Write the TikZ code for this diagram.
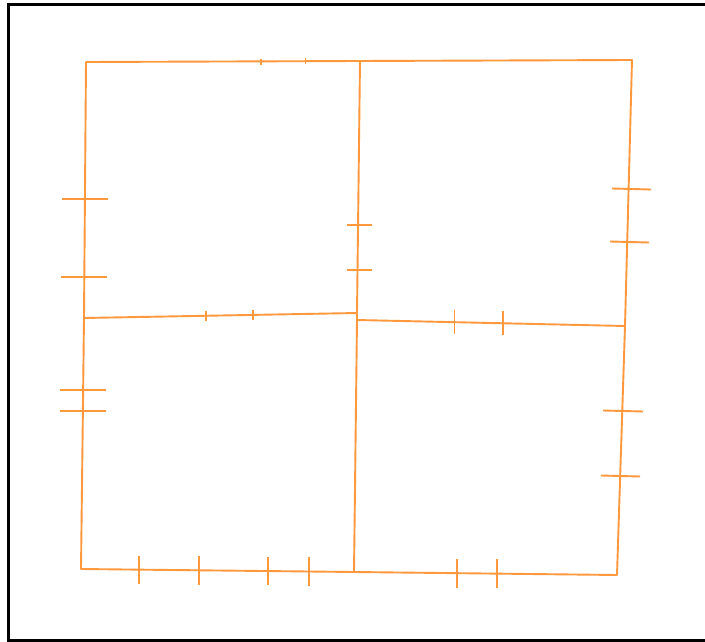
\documentclass[tikz,border=0pt]{standalone}
\usepackage{tikz}
\definecolor{edgeorange}{RGB}{253,152,60}
\tikzset{
  edge/.style={draw=edgeorange, line width=1.9pt, line cap=round, line join=round},
  tickmark/.style={draw=edgeorange, line width=1.9pt},
  thintick/.style={draw=edgeorange, line width=1.6pt},
  frameline/.style={draw=black, line width=3.2pt}
}
\begin{document}
\begin{tikzpicture}[x=1pt,y=-1pt]
\useasboundingbox (0,0) rectangle (705,642);
\fill[white] (0,0) rectangle (705,642);
\draw[frameline] (8.5,4.5) rectangle (720,641);
% corners
\coordinate (A) at (86,62);
\coordinate (B) at (360,61);
\coordinate (C) at (632,60);
\coordinate (D) at (84,318);
\coordinate (E1) at (357,313);
\coordinate (E2) at (357,320);
\coordinate (F) at (625,326);
\coordinate (G) at (81,569);
\coordinate (H) at (354,572);
\coordinate (I) at (617,575);
% edges
\draw[edge] (A) -- (B) -- (C) -- (F) -- (I) -- (H) -- (G) -- (D) -- (A);
\draw[edge] (B) -- (E1) -- (E2) -- (H);
\draw[edge] (D) -- (E1);
\draw[edge] (E2) -- (F);
% ticks top edge
\draw[thintick] (261,59) -- (261,65);
\draw[thintick] (305.5,58.5) -- (305.5,64.5);
% ticks left upper
\draw[tickmark] (62,199) -- (108,199);
\draw[tickmark] (61,277) -- (107,277);
% ticks left lower
\draw[tickmark] (60,390) -- (106,390);
\draw[tickmark] (60,411) -- (106,411);
% ticks middle vertical
\draw[tickmark] (347,225) -- (372,225);
\draw[tickmark] (347,270) -- (372,270);
% ticks right upper
\draw[tickmark] (612,188.5) -- (651,189.5);
\draw[tickmark] (610,241.5) -- (649,242.5);
% ticks right lower
\draw[tickmark] (603,410.5) -- (643,411.5);
\draw[tickmark] (601,475.5) -- (640,476.5);
% ticks middle horizontal left
\draw[thintick] (206,310.5) -- (206,320.5);
\draw[thintick] (253,309.5) -- (253,319.5);
% ticks middle horizontal right
\draw[tickmark] (454.5,310) -- (454.5,334);
\draw[tickmark] (503,311) -- (503,335);
% ticks bottom left
\draw[tickmark] (139,556) -- (139,584);
\draw[tickmark] (199,556) -- (199,585);
\draw[tickmark] (268,557) -- (268,585);
\draw[tickmark] (309,557) -- (309,586);
% ticks bottom right
\draw[tickmark] (457,559) -- (457,588);
\draw[tickmark] (497,559) -- (497,588);
\end{tikzpicture}
\end{document}
